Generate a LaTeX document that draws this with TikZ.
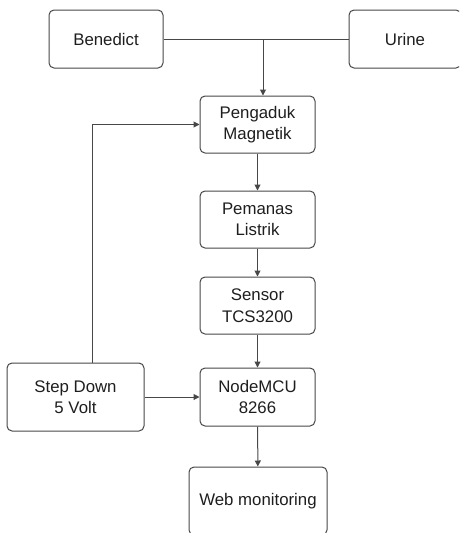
\documentclass[tikz,border=0pt]{standalone}
\usepackage{fontspec}
\setmainfont{Liberation Sans}
\usetikzlibrary{arrows.meta,positioning}
\definecolor{cLine}{HTML}{474747}
\definecolor{cInk}{HTML}{1E1E1E}
\tikzset{
  >={Triangle[length=6pt,width=6pt]},
  blok/.style ={rounded corners=5pt,draw=cLine,line width=1pt,text=cInk,
                align=center,inner sep=2pt,font=\fontsize{16.8}{21.5}\selectfont,
                minimum width=115pt,minimum height=57pt},
  ar/.style   ={->,line width=1pt,cLine},
  ln/.style   ={line width=1pt,cLine},
}
\begin{document}
\begin{tikzpicture}[x=1pt,y=-1pt]
\useasboundingbox (0,0) rectangle (459,533);
\clip (0,0) rectangle (459,533);
% inputs
\node[blok,minimum width=114pt,minimum height=58pt] (benedict) at (106,39) {Benedict};
\node[blok,minimum width=112pt,minimum height=58pt] (urine) at (405,39) {Urine};
% main chain
\node[blok] (aduk) at (257.5,124.5) {Pengaduk\\Magnetik};
\node[blok] (panas) at (257.5,219.5) {Pemanas\\Listrik};
\node[blok] (sensor) at (257.5,305.5) {Sensor\\TCS3200};
\node[blok,minimum height=58pt] (mcu) at (257.5,397) {NodeMCU\\8266};
\node[blok,minimum width=137pt,minimum height=68pt] (step) at (75.5,397) {Step Down\\5 Volt};
\node[blok,minimum width=138pt,minimum height=68pt] (web) at (258,501) {Web monitoring};
% connectors
\coordinate (tee) at (263,39);
\draw[ln] (benedict.east) -- (urine.west);
\draw[ar] (tee) -- (tee |- aduk.north);
\draw[ar] ([xshift=16.5pt]step.north) |- (aduk.west);
\draw[ar] (aduk) -- (panas);
\draw[ar] (panas) -- (sensor);
\draw[ar] (sensor) -- (mcu);
\draw[ar] (step) -- (mcu);
\draw[ar] (mcu) -- (web);
\end{tikzpicture}
\end{document}
